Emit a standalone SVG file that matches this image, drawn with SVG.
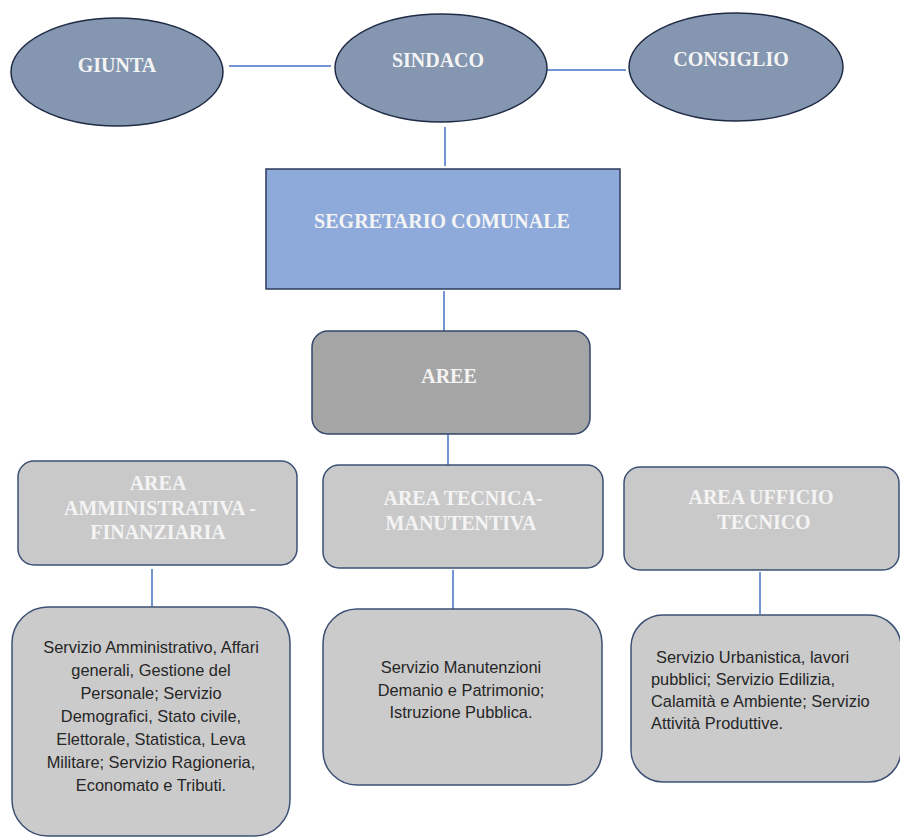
<svg xmlns="http://www.w3.org/2000/svg" width="900" height="838" viewBox="0 0 900 838">
<style>
.ell{fill:#8496b0;stroke:#1f2b45;stroke-width:1.5}
.seg{fill:#8eaadb;stroke:#2c3b5a;stroke-width:1.5}
.aree{fill:#a5a5a5;stroke:#33466b;stroke-width:1.5}
.area{fill:#c9c9c9;stroke:#3d5074;stroke-width:1.5}
.serv{fill:#cbcbcb;stroke:#3d5074;stroke-width:1.5}
.h{font-family:"Liberation Serif","Times New Roman",serif;font-weight:bold;font-size:20px;fill:#f4f4f4;text-anchor:middle}
.t{font-family:"Liberation Sans",Arial,sans-serif;font-size:16.4px;fill:#262626}
.c{text-anchor:middle}
.conn line{stroke:#4472c4;stroke-width:1.5}
</style>
<rect width="900" height="838" fill="#ffffff"/>
<g class="conn" id="connectors">
<line x1="229" y1="66" x2="331" y2="66"/>
<line x1="547" y1="70" x2="626" y2="70"/>
<line x1="445" y1="127" x2="445" y2="166"/>
<line x1="444" y1="291" x2="444" y2="331"/>
<line x1="448" y1="434" x2="448" y2="465"/>
<line x1="152" y1="569" x2="152" y2="607"/>
<line x1="453" y1="570" x2="453" y2="609"/>
<line x1="760" y1="572" x2="760" y2="614"/>
</g>
<g id="giunta">
<ellipse class="ell" cx="117" cy="72" rx="106" ry="54"/>
<text class="h" x="117" y="72">GIUNTA</text>
</g>
<g id="sindaco">
<ellipse class="ell" cx="441" cy="68" rx="106" ry="54"/>
<text class="h" x="438" y="67">SINDACO</text>
</g>
<g id="consiglio">
<ellipse class="ell" cx="736" cy="67" rx="107" ry="54"/>
<text class="h" x="731" y="66">CONSIGLIO</text>
</g>
<g id="segretario">
<rect class="seg" x="266" y="169" width="354" height="120"/>
<text class="h" x="442" y="228">SEGRETARIO COMUNALE</text>
</g>
<g id="aree">
<rect class="aree" x="312" y="331" width="278" height="103" rx="16"/>
<text class="h" x="449" y="383">AREE</text>
</g>
<g id="area-amministrativa">
<rect class="area" x="18" y="461" width="279" height="104" rx="16"/>
<text class="h" x="158" y="490">AREA</text>
<text class="h" x="160" y="515">AMMINISTRATIVA -</text>
<text class="h" x="158" y="539">FINANZIARIA</text>
</g>
<g id="area-tecnica">
<rect class="area" x="323" y="465" width="280" height="103" rx="16"/>
<text class="h" x="463" y="505">AREA TECNICA-</text>
<text class="h" x="461" y="530">MANUTENTIVA</text>
</g>
<g id="area-ufficio">
<rect class="area" x="624" y="467" width="275" height="103" rx="16"/>
<text class="h" x="761" y="504">AREA UFFICIO</text>
<text class="h" x="764" y="529">TECNICO</text>
</g>
<g id="servizi-amministrativa">
<rect class="serv" x="12" y="607" width="278" height="229" rx="36"/>
<text class="t c" x="151" y="653">Servizio Amministrativo, Affari</text>
<text class="t c" x="151" y="676">generali, Gestione del</text>
<text class="t c" x="151" y="699">Personale; Servizio</text>
<text class="t c" x="151" y="722">Demografici, Stato civile,</text>
<text class="t c" x="151" y="745">Elettorale, Statistica, Leva</text>
<text class="t c" x="151" y="768">Militare; Servizio Ragioneria,</text>
<text class="t c" x="151" y="791">Economato e Tributi.</text>
</g>
<g id="servizi-tecnica">
<rect class="serv" x="323" y="609" width="279" height="176" rx="34"/>
<text class="t c" x="461" y="673">Servizio Manutenzioni</text>
<text class="t c" x="461" y="696">Demanio e Patrimonio;</text>
<text class="t c" x="461" y="718">Istruzione Pubblica.</text>
</g>
<g id="servizi-ufficio">
<rect class="serv" x="631" y="615" width="270" height="167" rx="32"/>
<text class="t" x="656" y="663">Servizio Urbanistica, lavori</text>
<text class="t" x="651" y="685">pubblici; Servizio Edilizia,</text>
<text class="t" x="651" y="707">Calamità e Ambiente; Servizio</text>
<text class="t" x="651" y="729">Attività Produttive.</text>
</g>
</svg>
